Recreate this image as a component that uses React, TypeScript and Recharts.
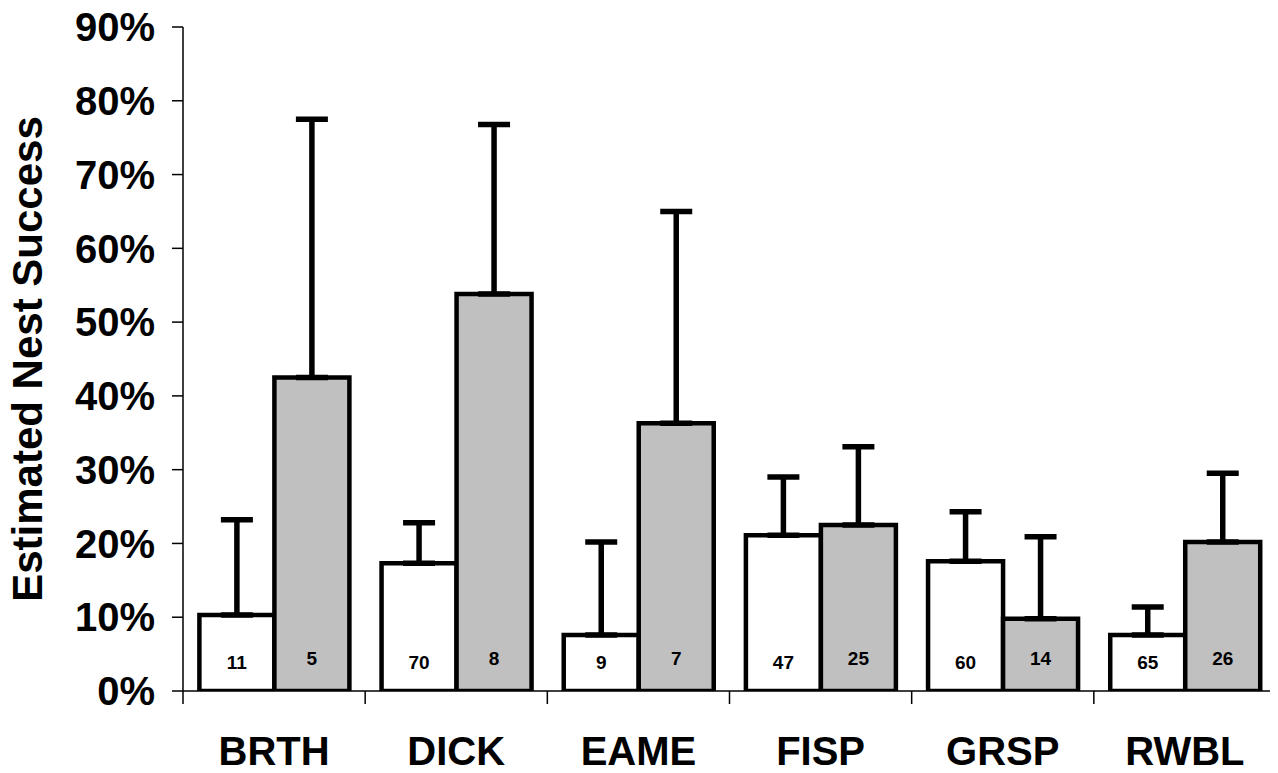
import React from "react";
import { BarChart, Bar, XAxis, YAxis, ErrorBar, LabelList, Label } from "recharts";

const species = ["BRTH", "DICK", "EAME", "FISP", "GRSP", "RWBL"];

// white bars
const whiteRate = [10.3, 17.3, 7.6, 21.1, 17.6, 7.6];
const whiteUpper = [23.2, 22.8, 20.2, 29.0, 24.3, 11.4];
const whiteN = [11, 70, 9, 47, 60, 65];

// gray bars
const grayRate = [42.5, 53.8, 36.3, 22.5, 9.8, 20.2];
const grayUpper = [77.5, 76.8, 65.0, 33.1, 20.9, 29.5];
const grayN = [5, 8, 7, 25, 14, 26];

const yTicks = [0, 10, 20, 30, 40, 50, 60, 70, 80, 90];

const data = species.map((name, i) => ({
  name,
  white: whiteRate[i],
  whiteErr: [0, whiteUpper[i] - whiteRate[i]],
  whiteN: whiteN[i],
  gray: grayRate[i],
  grayErr: [0, grayUpper[i] - grayRate[i]],
  grayN: grayN[i],
}));

const FONT = '"Liberation Sans", Arial, sans-serif';
const W = 1278;
const H = 773;
const MARGIN = { top: 27, right: 2, bottom: 81, left: 0 };
const Y_WIDTH = 183;

const countLabel = (lift: number) => (props: any) => {
  const { x, y, width, height, value } = props;
  return (
    <text
      x={Number(x) + Number(width) / 2}
      y={Number(y) + Number(height) - lift}
      textAnchor="middle"
      dominantBaseline="central"
      fontFamily={FONT}
      fontWeight="bold"
      fontSize={19}
      fill="#000"
    >
      {value}
    </text>
  );
};

const YTitle = (props: any) => {
  const vb = props.viewBox || {};
  const cx = (vb.x || 0) + 27;
  const cy = vb.y + vb.height / 2;
  return (
    <text
      x={cx}
      y={cy}
      transform={`rotate(-90 ${cx} ${cy})`}
      textAnchor="middle"
      dominantBaseline="central"
      fontFamily={FONT}
      fontWeight="bold"
      fontSize={42}
      fill="#000"
    >
      Estimated Nest Success
    </text>
  );
};

// category label plus tick marks on the category boundaries
const SpeciesTick = (props: any) => {
  const { x, y, payload, index } = props;
  const plotW = W - MARGIN.left - MARGIN.right - Y_WIDTH;
  const half =
    payload && typeof payload.offset === "number" && payload.offset > 0
      ? payload.offset
      : plotW / species.length / 2;
  const isLast = index === species.length - 1;
  return (
    <g>
      <line x1={x - half} x2={x - half} y1={y} y2={y + 13} stroke="#000" strokeWidth={1.5} />
      {isLast && (
        <line x1={x + half} x2={x + half} y1={y} y2={y + 13} stroke="#000" strokeWidth={1.5} />
      )}
      <text
        x={x}
        y={y + 46}
        dy="0.71em"
        textAnchor="middle"
        fontFamily={FONT}
        fontWeight="bold"
        fontSize={40}
        fill="#000"
      >
        {payload.value}
      </text>
    </g>
  );
};

export default function App() {
  const tickStyle = { fill: "#000", fontSize: 40, fontWeight: "bold", fontFamily: FONT };
  return (
    <div style={{ width: W, height: H, margin: -8, fontFamily: FONT }}>
      <BarChart
        width={W}
        height={H}
        data={data}
        margin={MARGIN}
        barGap={0}
        barCategoryGap="9%"
      >
        <XAxis
          dataKey="name"
          height={1}
          tickLine={false}
          tickSize={0}
          tickMargin={0}
          tick={<SpeciesTick />}
          interval={0}
          axisLine={{ stroke: "#000", strokeWidth: 1.5 }}
        />
        <YAxis
          width={Y_WIDTH}
          domain={[0, 90]}
          ticks={yTicks}
          allowDataOverflow
          tickFormatter={(v: number) => `${v}%`}
          tickSize={11}
          tickMargin={17}
          tick={tickStyle}
          axisLine={{ stroke: "#000", strokeWidth: 1.5 }}
          tickLine={{ stroke: "#000", strokeWidth: 1.5 }}
        >
          <Label content={YTitle} />
        </YAxis>
        <Bar
          dataKey="white"
          fill="#FFFFFF"
          stroke="#000"
          strokeWidth={4.5}
          isAnimationActive={false}
        >
          <ErrorBar dataKey="whiteErr" direction="y" width={16} stroke="#000" strokeWidth={5.5} />
          <LabelList dataKey="whiteN" content={countLabel(29)} />
        </Bar>
        <Bar
          dataKey="gray"
          fill="#C0C0C0"
          stroke="#000"
          strokeWidth={4.5}
          isAnimationActive={false}
        >
          <ErrorBar dataKey="grayErr" direction="y" width={16} stroke="#000" strokeWidth={5.5} />
          <LabelList dataKey="grayN" content={countLabel(32.5)} />
        </Bar>
      </BarChart>
    </div>
  );
}
